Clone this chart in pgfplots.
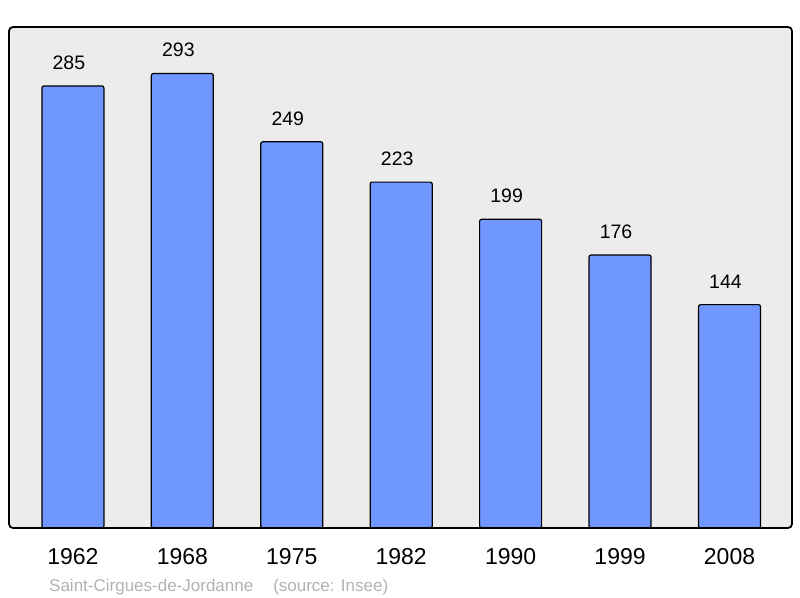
\documentclass[border=0pt]{standalone}
\usepackage{fontspec}
\setmainfont{Liberation Sans}
\usepackage{pgfplots}
\pgfplotsset{compat=1.18}
\definecolor{bg}{RGB}{236,236,236}
\definecolor{barblue}{RGB}{112,150,255}
\definecolor{capgray}{RGB}{178,178,178}
\begin{document}
\begin{tikzpicture}
\begin{axis}[
  scale only axis,
  width=783pt, height=501pt,
  xmin=-0.584, xmax=6.571,
  ymin=0, ymax=323,
  axis background/.style={fill=bg},
  axis line style={draw=none},
  major tick length=0pt,
  ytick=\empty,
  xtick={0,1,2,3,4,5,6},
  xticklabels={1962,1968,1975,1982,1990,1999,2008},
  xticklabel style={font=\fontsize{23}{27}\selectfont, yshift=-17pt},
  /pgf/number format/assume math mode=true,
  ybar, bar width=62pt,
  nodes near coords={\pgfmathprintnumber[assume math mode=true]{\pgfplotspointmeta}},
  every node near coord/.append style={font=\fontsize{19.5}{23}\selectfont, yshift=12.5pt, xshift=-4pt, black},
  clip=false,
]
\addplot[fill=barblue, draw=black, line width=1.2pt, rounded corners=2pt] coordinates {
 (0,285) (1,293) (2,249) (3,223) (4,199) (5,176) (6,144)
};
\draw[line width=1.8pt, rounded corners=4pt] (rel axis cs:0,0) rectangle (rel axis cs:1,1);
\end{axis}
\node[anchor=base west, inner sep=0pt, text=capgray, font=\fontsize{17}{20}\selectfont] at ([shift={(40pt,-64pt)}]current axis.south west) {Saint-Cirgues-de-Jordanne\hspace{20pt}(source: Insee)};
\path ([shift={(-9pt,-70pt)}]current axis.south west) rectangle ([shift={(8pt,27pt)}]current axis.north east);
\end{tikzpicture}
\end{document}
